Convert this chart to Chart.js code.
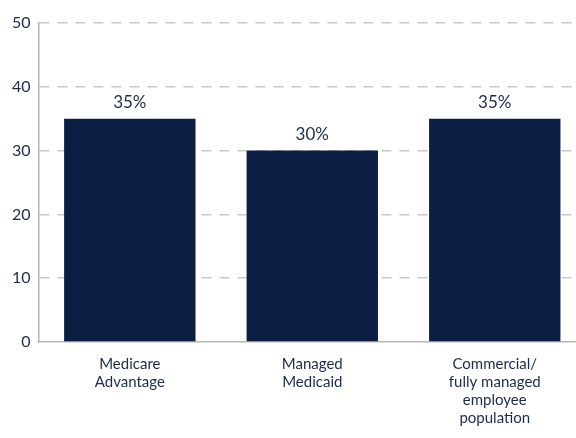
<!DOCTYPE html>
<html>
<head>
<meta charset="utf-8">
<script src="https://cdn.jsdelivr.net/npm/chart.js@4"></script>
<style>
  html, body { margin: 0; padding: 0; background: #fff; overflow: hidden; }
  #wrap { width: 586px; height: 438px; position: relative; }
</style>
</head>
<body>
<div id="wrap"><canvas id="chart"></canvas></div>
<script>
const categories = [
  ['Medicare', 'Advantage'],
  ['Managed', 'Medicaid'],
  ['Commercial/', 'fully managed', 'employee', 'population']
];
const values = [35, 30, 35];
const yTicks = [0, 10, 20, 30, 40, 50];

const navy = '#0c1f42';
const textColor = '#1c2b4b';

// etykiety z wartością nad słupkami
const valueLabels = {
  id: 'valueLabels',
  afterDatasetsDraw(chart) {
    const ctx = chart.ctx;
    const meta = chart.getDatasetMeta(0);
    ctx.save();
    ctx.font = '17px Lato';
    ctx.fillStyle = textColor;
    ctx.textAlign = 'center';
    ctx.textBaseline = 'bottom';
    meta.data.forEach((bar, i) => {
      ctx.fillText(values[i] + '%', bar.x, bar.y - 8);
    });
    ctx.restore();
  }
};

new Chart(document.getElementById('chart'), {
  type: 'bar',
  data: {
    labels: categories,
    datasets: [{
      data: values,
      backgroundColor: navy,
      categoryPercentage: 0.9,
      barPercentage: 0.8
    }]
  },
  options: {
    responsive: true,
    maintainAspectRatio: false,
    animation: false,
    layout: { padding: { top: 23, left: 4, right: 0, bottom: 6 } },
    plugins: {
      legend: { display: false },
      tooltip: { enabled: false }
    },
    scales: {
      x: {
        grid: { display: false },
        border: { color: '#b5b5b5', width: 1.5 },
        ticks: {
          color: textColor,
          font: { family: 'Lato', size: 15, lineHeight: 1.2 },
          padding: 5,
          maxRotation: 0
        }
      },
      y: {
        min: 0,
        max: 50,
        afterBuildTicks(axis) {
          axis.ticks = yTicks.map(v => ({ value: v }));
        },
        grid: {
          color: (c) => c.tick.value === 0 ? 'rgba(0,0,0,0)' : '#c8c8c8',
          lineWidth: 1.5,
          drawTicks: false
        },
        border: { color: '#b5b5b5', width: 1.5, dash: [10, 8] },
        ticks: {
          color: textColor,
          font: { family: 'Lato', size: 16 },
          padding: 8
        }
      }
    }
  },
  plugins: [valueLabels]
});
</script>
</body>
</html>
